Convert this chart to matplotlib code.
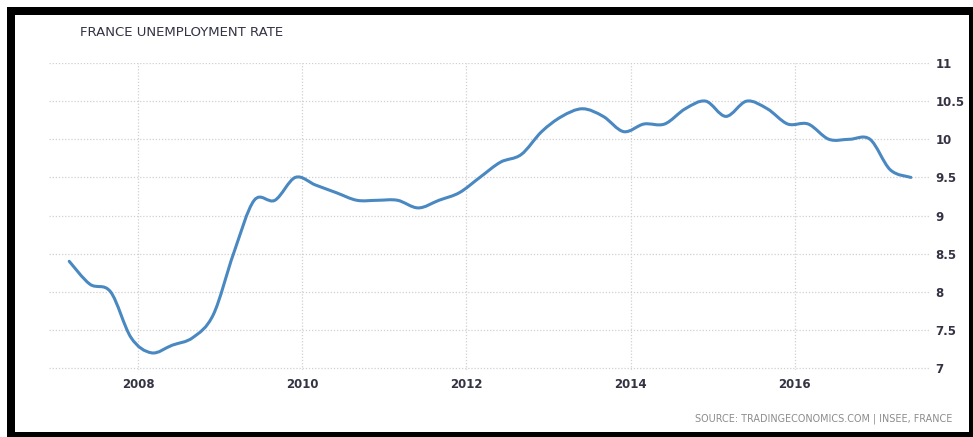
import matplotlib
matplotlib.use("Agg")
import matplotlib.pyplot as plt
import matplotlib.dates as mdates
from matplotlib.path import Path
from matplotlib.patches import PathPatch, Rectangle
import numpy as np
import pandas as pd

# quarterly unemployment rate, 2007 Q1 .. 2017 Q2
quarters = pd.date_range("2007-03-01", periods=42, freq="3MS")
rate = [8.4, 8.1, 8.0, 7.4, 7.2, 7.3, 7.4, 7.7, 8.5, 9.2,
        9.2, 9.5, 9.4, 9.3, 9.2, 9.2, 9.2, 9.1, 9.2, 9.3,
        9.5, 9.7, 9.8, 10.1, 10.3, 10.4, 10.3, 10.1, 10.2, 10.2,
        10.4, 10.5, 10.3, 10.5, 10.4, 10.2, 10.2, 10.0, 10.0, 10.0,
        9.6, 9.5]
year_ticks = ["2008", "2010", "2012", "2014", "2016"]
y_ticks = [7, 7.5, 8, 8.5, 9, 9.5, 10, 10.5, 11]
y_labels = ["7", "7.5", "8", "8.5", "9", "9.5", "10", "10.5", "11"]

line_color = "#4a88c2"
text_color = "#333344"

fig = plt.figure(figsize=(9.73, 4.37), dpi=100)

# black frame around the chart
fig.patches.append(Rectangle((7 / 973, -0.05), 1.0, 1 - 7 / 437 + 0.05,
                             transform=fig.transFigure, facecolor="black",
                             edgecolor="none", zorder=0))
fig.patches.append(Rectangle((15 / 973, 1 - 432 / 437), (969 - 15) / 973,
                             (432 - 15) / 437, transform=fig.transFigure,
                             facecolor="white", edgecolor="none", zorder=1))

ax = fig.add_axes([49 / 973, 1 - 370 / 437, 881 / 973, 307 / 437])
ax.set_facecolor("none")
ax.set_zorder(5)

# smooth curve through the quarterly points (cubic bezier segments)
xs = mdates.date2num(quarters)
ys = np.array(rate)
verts = [(xs[0], ys[0])]
codes = [Path.MOVETO]
t = 1 / 6
for i in range(len(xs) - 1):
    p0 = (xs[max(i - 1, 0)], ys[max(i - 1, 0)])
    p1 = (xs[i], ys[i])
    p2 = (xs[i + 1], ys[i + 1])
    p3 = (xs[min(i + 2, len(xs) - 1)], ys[min(i + 2, len(xs) - 1)])
    c1 = (p1[0] + (p2[0] - p0[0]) * t, p1[1] + (p2[1] - p0[1]) * t)
    c2 = (p2[0] - (p3[0] - p1[0]) * t, p2[1] - (p3[1] - p1[1]) * t)
    verts += [c1, c2, p2]
    codes += [Path.CURVE4] * 3
ax.add_patch(PathPatch(Path(verts, codes), facecolor="none",
                       edgecolor=line_color, lw=2.2, capstyle="round",
                       joinstyle="round", zorder=3))

ax.set_xlim(mdates.date2num(pd.Timestamp("2006-12-01")),
            mdates.date2num(pd.Timestamp("2017-08-25")))
ax.set_ylim(6.975, 11)

ax.set_xticks([mdates.date2num(pd.Timestamp(y + "-01-01")) for y in year_ticks])
ax.set_xticklabels(year_ticks)
ax.set_yticks(y_ticks)
ax.set_yticklabels(y_labels)
ax.yaxis.tick_right()
ax.tick_params(axis="both", length=0, labelsize=8.5, labelcolor=text_color)
ax.tick_params(axis="x", pad=6)
ax.tick_params(axis="y", pad=4)
for lbl in ax.get_xticklabels() + ax.get_yticklabels():
    lbl.set_fontweight("bold")

ax.grid(True, color="#d0d0d0", linestyle=(0, (1, 1.5)), linewidth=0.9)
for s in ax.spines.values():
    s.set_visible(False)

fig.text(80 / 973, 1 - 33 / 437, "FRANCE UNEMPLOYMENT RATE", fontsize=9.5,
         color=text_color, va="center", ha="left")
fig.text(952 / 973, 1 - 419 / 437, "SOURCE: TRADINGECONOMICS.COM | INSEE, FRANCE",
         fontsize=6.9, color="#8c8c8c", va="center", ha="right")

fig.savefig("out.png", dpi=100)
